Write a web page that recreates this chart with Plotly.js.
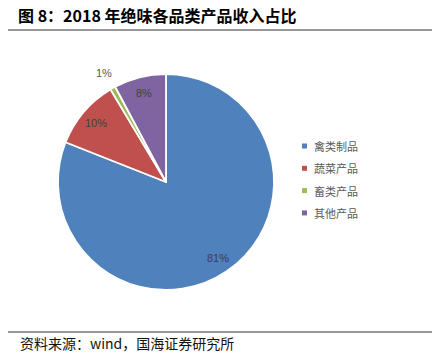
<!DOCTYPE html>
<html><head><meta charset="utf-8">
<script src="https://cdn.plot.ly/plotly-3.0.1.min.js"></script>
<style>html,body{margin:0;padding:0;background:#fff}#chart{width:432px;height:357px}</style>
</head><body><div id="chart"></div>
<script>
const categories = ['禽类制品', '蔬菜产品', '畜类产品', '其他产品'];
const shares = [81.0, 10.4, 0.8, 7.8];
const colors = ['#4F81BD', '#C0504D', '#9BBB59', '#8064A2'];

const W = 432, H = 357;
const cx = 166, cy = 182, R = 108;
const px = x => x / W, py = y => 1 - y / H;

const total = shares.reduce((a, b) => a + b, 0);
const annotations = [];
const shapes = [];
let cum = 0;
shares.forEach((v, i) => {
  const theta = 2 * Math.PI * (cum + v / 2) / total;
  cum += v;
  const small = v / total < 0.03;
  const k = small ? 1.16 : 0.85;
  annotations.push({
    xref: 'paper', yref: 'paper',
    x: px(cx + k * R * Math.sin(theta)), y: py(cy - k * R * Math.cos(theta)),
    text: Math.round(v / total * 100) + '%', showarrow: false,
    font: {family: 'Liberation Sans, Arial, sans-serif', size: 11, color: small ? '#595959' : '#404040'},
    xanchor: 'center', yanchor: 'middle'
  });
});

// custom legend
categories.forEach((c, i) => {
  const yc = 146 + i * 22.3;
  shapes.push({type: 'rect', xref: 'paper', yref: 'paper',
    x0: px(302), x1: px(307), y0: py(yc + 2.5), y1: py(yc - 2.5),
    fillcolor: colors[i], line: {width: 0}});
  annotations.push({xref: 'paper', yref: 'paper', x: px(312), y: py(yc),
    text: c, showarrow: false, xanchor: 'left', yanchor: 'middle',
    font: {family: 'Noto Sans CJK SC', size: 11, color: '#595959'}});
});

// rules
shapes.push({type: 'line', xref: 'paper', yref: 'paper', x0: px(8), x1: px(432), y0: py(30), y1: py(30), line: {color: '#333', width: 1}});
shapes.push({type: 'line', xref: 'paper', yref: 'paper', x0: px(8), x1: px(432), y0: py(332), y1: py(332), line: {color: '#333', width: 1}});

annotations.push({xref: 'paper', yref: 'paper', x: px(18), y: py(343), xanchor: 'left', yanchor: 'middle',
  text: '资料来源：wind，国海证券研究所', showarrow: false,
  font: {family: 'Noto Sans CJK SC', size: 14, color: '#111'}});

const data = [{
  type: 'pie', labels: categories, values: shares, sort: false, direction: 'clockwise', rotation: 0,
  marker: {colors: colors, line: {color: '#fff', width: 1.8}},
  textinfo: 'none', hoverinfo: 'label+percent', showlegend: false,
  domain: {x: [px(cx - R), px(cx + R)], y: [py(cy + R), py(cy - R)]}
}];

const layout = {
  width: W, height: H, margin: {l: 0, r: 0, t: 0, b: 0},
  paper_bgcolor: '#fff', showlegend: false,
  title: {text: '<b>图 8：2018 年绝味各品类产品收入占比</b>', x: px(18), xanchor: 'left', xref: 'paper',
    y: py(16), yanchor: 'middle', yref: 'container',
    font: {family: 'Noto Sans CJK SC', size: 16, color: '#000'}},
  annotations: annotations, shapes: shapes
};
Plotly.newPlot('chart', data, layout, {displayModeBar: false, staticPlot: true});
</script></body></html>
